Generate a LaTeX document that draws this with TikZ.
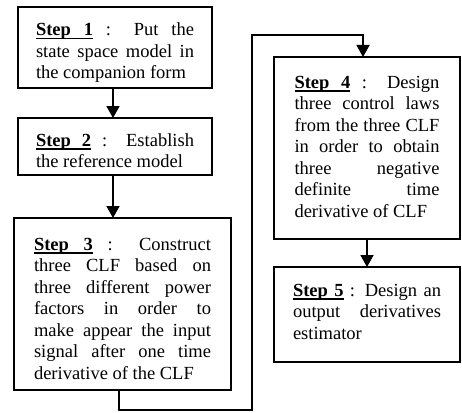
\documentclass[tikz,border=0pt]{standalone}
\usepackage{fontspec}
\setmainfont{Liberation Serif}
\usetikzlibrary{calc,arrows.meta,positioning}
\tolerance=10000
\hyphenpenalty=10000
\newsavebox{\steptext}
\newcommand{\uword}[1]{\sbox{\steptext}{#1}\rlap{\rule[-3.5pt]{\wd\steptext}{1.2pt}}\usebox{\steptext}}
\newcommand{\uspace}{\leaders\hrule height -2.3pt depth 3.5pt\hskip\fontdimen2\font plus \fontdimen3\font minus \fontdimen4\font}
\newcommand{\steplabel}[1]{\textbf{\uword{Step}\uspace\uword{#1}}}
\newcommand{\topgap}[1]{\rule{0pt}{#1}}
\newcommand{\botgap}[1]{\rule[-#1]{0pt}{#1}}
\tikzset{
	stepbox/.style={
		draw, rectangle, line width=1.2pt,
		inner ysep=0pt, outer sep=0pt,
		align=justify, text=black,
		font=\fontsize{18.5}{21.5}\selectfont
	},
	flow_arrow/.style={-{Triangle[width=13pt,length=12pt]}, line width=1.8pt}
}

\begin{document}
\begin{tikzpicture}[x=1pt,y=1pt]
				\useasboundingbox (0,0) rectangle (462,-412);
				\node[stepbox, text width=158pt, inner xsep=18pt, anchor=north] (step1) at (115,-7)
					{\topgap{29pt}\steplabel{1} : Put the\linebreak state space model in\linebreak the companion form\botgap{9pt}};
				\node[stepbox, text width=158pt, inner xsep=18pt] (step2) [below=30pt of step1]
					{\topgap{28pt}\steplabel{2} : Establish\linebreak the reference model\botgap{7.5pt}};
				\node[stepbox, text width=177pt, inner xsep=20pt] (step3) [below=43pt of step2, xshift=7.5pt]
					{\topgap{32pt}\steplabel{3} : Construct\linebreak three CLF based on\linebreak three different power\linebreak factors in order to\linebreak make appear the input\linebreak signal after one time\linebreak derivative of the CLF\botgap{11pt}};
				\node[stepbox, text width=145pt, inner xsep=20.5pt, anchor=north] (step4) at (367,-57)
					{\parfillskip=0pt \topgap{31pt}\steplabel{4} : Design\linebreak three control laws\linebreak from the three CLF\linebreak in order to obtain\linebreak three negative\linebreak definite time\linebreak derivative of CLF\botgap{22pt}};
				\node[stepbox, text width=148pt, inner xsep=19pt] (step5) [below=28pt of step4]
					{\topgap{29pt}\steplabel{5} : Design an\linebreak output derivatives\linebreak estimator\botgap{23pt}};
				\draw[flow_arrow] ([xshift=-2pt]step1.south) -- ([xshift=-2pt]step2.north);
				\draw[flow_arrow] ([xshift=-2pt]step2.south) -- ([xshift=-2pt]step2.south |- step3.north);
				\draw[flow_arrow] ([xshift=-3.5pt]step3.south) -- ++(0,-20) -| ($(step4.north)+(-115,22)$) -| ([xshift=-4pt]step4.north);
				\draw[flow_arrow] (step4.south) -- (step5.north);
			\end{tikzpicture}
\end{document}
